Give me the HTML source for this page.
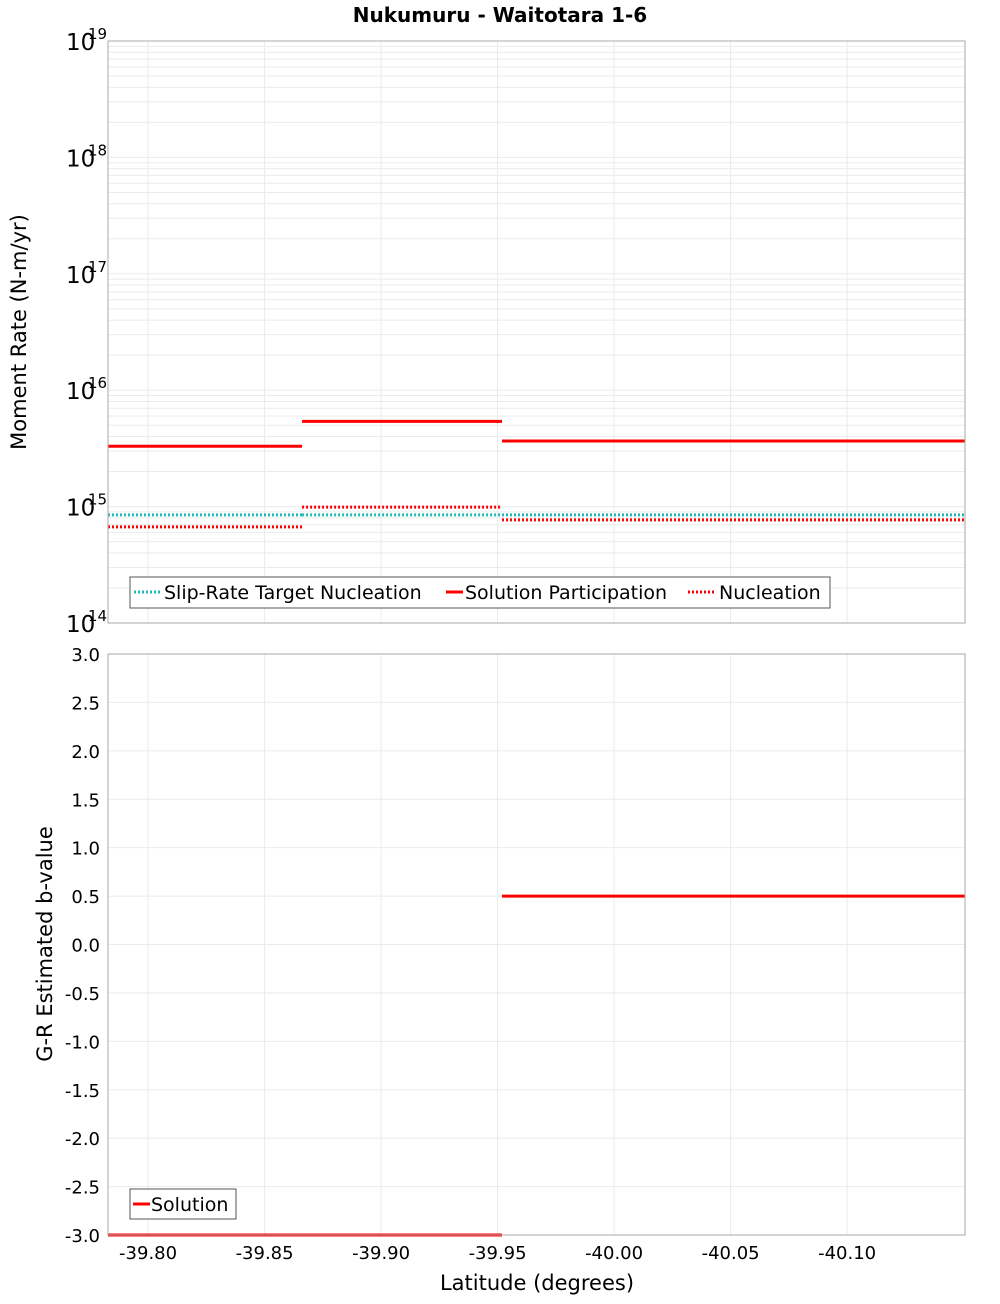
<!DOCTYPE html>
<html><head><meta charset="utf-8"><style>
body{margin:0;background:#fff;font-family:"DejaVu Sans","Liberation Sans",sans-serif}
svg text{font-family:"DejaVu Sans","Liberation Sans",sans-serif}
</style></head><body>
<svg id="c" width="1000" height="1300" xmlns="http://www.w3.org/2000/svg">
<text x="500" y="22" text-anchor="middle" font-size="20" font-weight="bold">Nukumuru - Waitotara 1-6</text>
<text transform="translate(26,332) rotate(-90)" text-anchor="middle" font-size="21">Moment Rate (N-m/yr)</text>
<text transform="translate(52,944) rotate(-90)" text-anchor="middle" font-size="21">G-R Estimated b-value</text>
<text x="537" y="1290" text-anchor="middle" font-size="21">Latitude (degrees)</text>
<g id="topg"></g><g id="botg"></g>
</svg>
<script>
const xTicks=[-39.80,-39.85,-39.90,-39.95,-40.00,-40.05,-40.10];
const xTickLabels=["-39.80","-39.85","-39.90","-39.95","-40.00","-40.05","-40.10"];
const segStarts=[-39.7828,-39.8661,-39.9519];
const segEnds=[-39.8661,-39.9519,-40.1506];
const participation=[3.3e15,5.4e15,3.66e15];
const nucleation=[6.7e14,9.9e14,7.7e14];
const target=[8.5e14,8.5e14,8.5e14];
const bValues=[-3.0,-3.0,0.5];
const bTicks=[3.0,2.5,2.0,1.5,1.0,0.5,0.0,-0.5,-1.0,-1.5,-2.0,-2.5,-3.0];
const decades=[14,15,16,17,18,19];

const NS="http://www.w3.org/2000/svg";
const L=108,R=965,T1=41,B1=623,T2=654,B2=1235;
const xmin=-39.7828,xmax=-40.1506;
const X=v=>L+(v-xmin)/(xmax-xmin)*(R-L);
const Y1=v=>B1-(Math.log10(v)-14)/5*(B1-T1);
const Y2=v=>B2-(v+3)/6*(B2-T2);
function el(t,a,p,txt){const e=document.createElementNS(NS,t);for(const k in a)e.setAttribute(k,a[k]);if(txt!==undefined)e.textContent=txt;p.appendChild(e);return e;}
const topG=document.getElementById('topg'),botG=document.getElementById('botg');

for(let d=14;d<19;d++)for(let m=1;m<10;m++){const y=Y1(m*Math.pow(10,d));
 const g=el('line',{x1:L,x2:R,y1:y,y2:y,stroke:'#ebebeb','stroke-width':1},topG);
 
 }
xTicks.forEach(v=>{const x=X(v);
 const g=el('line',{x1:x,x2:x,y1:T1,y2:B1,stroke:'#ebebeb'},topG);
 
 
 const h=el('line',{x1:x,x2:x,y1:T2,y2:B2,stroke:'#ebebeb'},botG);
 
 });
bTicks.forEach(v=>{const y=Y2(v);
 const g=el('line',{x1:L,x2:R,y1:y,y2:y,stroke:'#ebebeb'},botG);
 
 
 const t=el('text',{x:100,y:y+7,'text-anchor':'end','font-size':18},botG,v.toFixed(1));
 
 });
decades.forEach(d=>{const y=Y1(Math.pow(10,d));
 const t=el('text',{x:66,y:y+9,'font-size':23},topG,'10');
 
 
 const s=el('text',{x:88,y:y-2,'font-size':15},topG,String(d));
 
 });
xTicks.forEach((v,i)=>{const t=el('text',{x:X(v),y:1259,'text-anchor':'middle','font-size':18},botG,xTickLabels[i]);
 
 });

function seg(p,vals,Yf,color,dash,name){vals.forEach((v,i)=>{const a={x1:X(segStarts[i]),x2:X(segEnds[i]),y1:Yf(v),y2:Yf(v),stroke:color,'stroke-width':3};if(dash)a['stroke-dasharray']='2,2';
 const l=el('line',a,p);
 
 });}
seg(topG,target,Y1,'#1fb8b8',true,'target-nucleation-segment');
seg(topG,participation,Y1,'#ff0000',false,'participation-segment');
seg(topG,nucleation,Y1,'#ff0000',true,'nucleation-segment');
seg(botG,bValues,Y2,'#ff0000',false,'b-value-segment');

let f=el('rect',{x:L,y:T1,width:R-L,height:B1-T1,fill:'none',stroke:'#aaa'},topG);


f=el('rect',{x:L,y:T2,width:R-L,height:B2-T2,fill:'none',stroke:'#aaa'},botG);



let lg=el('g',{},topG);


el('rect',{x:130,y:577,width:700,height:31,fill:'#fff',stroke:'#555'},lg);
el('line',{x1:134,x2:161,y1:592,y2:592,stroke:'#1fb8b8','stroke-width':3,'stroke-dasharray':'2,2'},lg);
el('text',{x:164,y:599,'font-size':19},lg,'Slip-Rate Target Nucleation');
el('line',{x1:446,x2:463,y1:592,y2:592,stroke:'#f00','stroke-width':3},lg);
el('text',{x:465,y:599,'font-size':19},lg,'Solution Participation');
el('line',{x1:688,x2:716,y1:592,y2:592,stroke:'#f00','stroke-width':3,'stroke-dasharray':'2,2'},lg);
el('text',{x:719,y:599,'font-size':19},lg,'Nucleation');
lg=el('g',{},botG);


el('rect',{x:130,y:1189,width:106,height:30,fill:'#fff',stroke:'#555'},lg);
el('line',{x1:133,x2:150,y1:1204,y2:1204,stroke:'#f00','stroke-width':3},lg);
el('text',{x:151,y:1211,'font-size':19},lg,'Solution');
</script>
</body></html>
